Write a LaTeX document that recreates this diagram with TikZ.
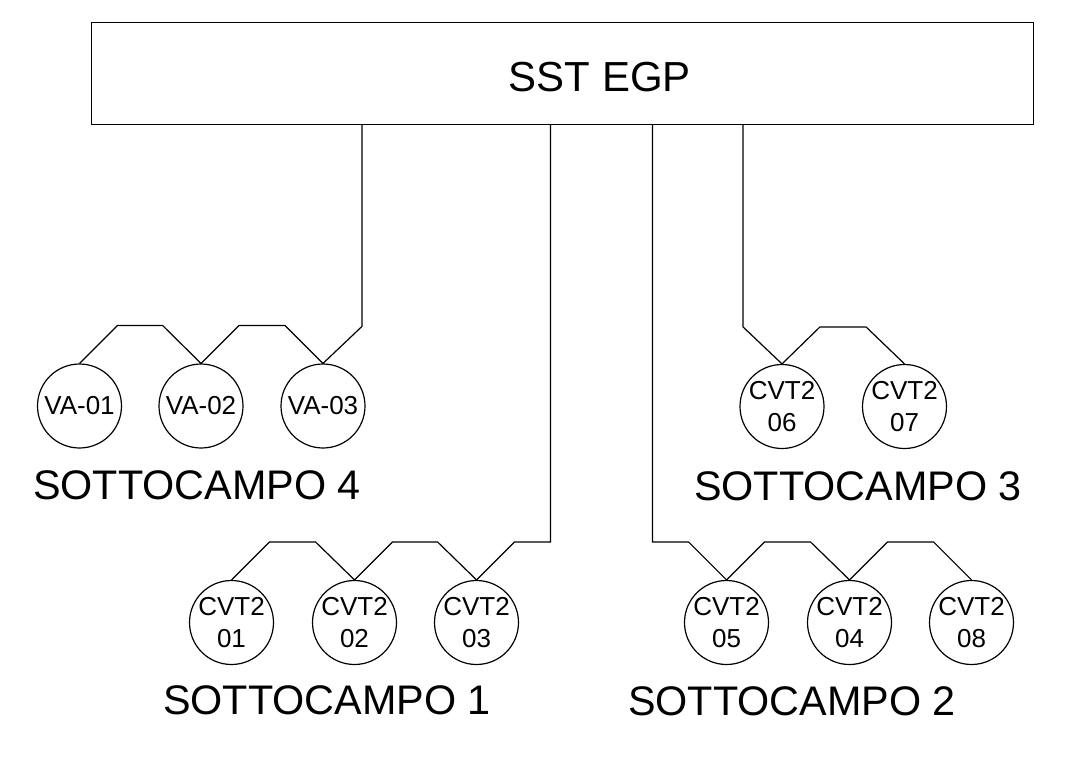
\documentclass[tikz,border=0pt]{standalone}
\usepackage{fontspec}
\setmainfont{Liberation Sans}
\usepackage{tikz}

\begin{document}
\begin{tikzpicture}[x=0.75pt,y=0.75pt,line width=0.9pt,
  unit/.style={draw,circle,inner sep=0pt,minimum size=63pt,align=center,
    font=\fontsize{19.5}{23.5}\selectfont},
  field/.style={font=\fontsize{31}{37}\selectfont},
  station/.style={draw,rectangle,minimum width=706pt,minimum height=76pt}]
\useasboundingbox (0,0) rectangle (1079,-764);

\node[station,label={[font=\fontsize{31.5}{38}\selectfont,xshift=28pt,yshift=-3pt]center:SST EGP}] (egp) at (562.5,-73.5) {};

% sottocampo 4
\node[unit] (va1) at (79.5,-406) {VA-01};
\node[unit] (va2) at (201,-406) {VA-02};
\node[unit] (va3) at (323,-406) {VA-03};
\node[field] (sc4) at (197,-485) {SOTTOCAMPO 4};

% sottocampo 3
\node[unit] (c06) at (782,-406.5) {CVT2\\06};
\node[unit] (c07) at (904.5,-406.5) {CVT2\\07};
\node[field] (sc3) at (858,-486) {SOTTOCAMPO 3};

% sottocampo 1
\node[unit] (c01) at (231.5,-622.5) {CVT2\\01};
\node[unit] (c02) at (354.5,-622.5) {CVT2\\02};
\node[unit] (c03) at (476.5,-622.5) {CVT2\\03};
\node[field] (sc1) at (327,-700) {SOTTOCAMPO 1};

% sottocampo 2
\node[unit] (c05) at (726.5,-622.5) {CVT2\\05};
\node[unit] (c04) at (849.5,-622.5) {CVT2\\04};
\node[unit] (c08) at (971.5,-622.5) {CVT2\\08};
\node[field] (sc2) at (792,-701) {SOTTOCAMPO 2};

\draw (va1.north) -- ++(38,38) -- ++(45,0) -- (va2.north) -- ++(38,38) -- ++(46,0) -- (va3.north)
  -- ++(39,37) coordinate (t4) -- (t4 |- egp.south);
\draw (c06.north) -- ++(-39,37) coordinate (t3) -- (t3 |- egp.south);
\draw (c06.north) -- ++(38,37) -- ++(46,0) -- (c07.north);
\draw (c01.north) -- ++(38,38) -- ++(46,0) -- (c02.north) -- ++(38,38) -- ++(45,0) -- (c03.north)
  -- ++(38,38) -- ++(36,0) coordinate (t1) -- (t1 |- egp.south);
\draw (c05.north) -- ++(-38,38) -- ++(-36,0) coordinate (t2) -- (t2 |- egp.south);
\draw (c05.north) -- ++(38,38) -- ++(46,0) -- (c04.north) -- ++(38,38) -- ++(46,0) -- (c08.north);
\end{tikzpicture}
\end{document}
